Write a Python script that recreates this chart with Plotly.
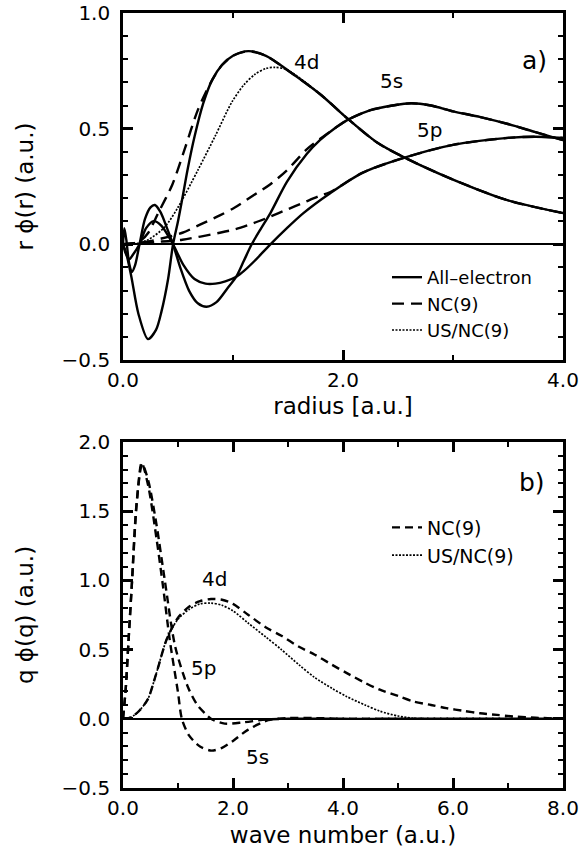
import plotly.graph_objects as go

# ---------------- panel a) : r*phi(r) ----------------
r_5s_ae = [0.0, 0.012, 0.03, 0.055, 0.08, 0.11, 0.15, 0.2, 0.25, 0.29, 0.34, 0.4, 0.455, 0.52, 0.6, 0.68, 0.76,
           0.85, 0.95, 1.03, 1.1, 1.17, 1.25, 1.34, 1.49, 1.67, 1.79, 1.92, 2.05, 2.25, 2.45, 2.62, 2.8, 3.0,
           3.25, 3.5, 3.75, 4.0]
y_5s_ae = [0.0, 0.07, 0.02, -0.08, -0.12, -0.09, 0.0, 0.11, 0.16, 0.17, 0.14, 0.07, 0.0, -0.1, -0.2, -0.255,
           -0.27, -0.25, -0.19, -0.14, -0.07, 0.0, 0.065, 0.135, 0.27, 0.39, 0.45, 0.50, 0.54, 0.58, 0.60, 0.61,
           0.60, 0.575, 0.55, 0.52, 0.485, 0.45]

r_5p_ae = [0.0, 0.025, 0.055, 0.09, 0.15, 0.21, 0.28, 0.35, 0.455, 0.55, 0.65, 0.75, 0.84, 0.93, 1.03, 1.1, 1.2,
           1.34, 1.49, 1.64, 1.88, 2.18, 2.56, 3.0, 3.5, 3.75, 4.0]
y_5p_ae = [0.0, -0.04, -0.065, -0.045, 0.0, 0.07, 0.10, 0.08, 0.0, -0.09, -0.15, -0.17, -0.17, -0.16, -0.14,
           -0.115, -0.07, 0.0, 0.07, 0.135, 0.22, 0.31, 0.375, 0.43, 0.46, 0.465, 0.46]

r_4d_ae = [0.0, 0.03, 0.076, 0.14, 0.227, 0.3, 0.35, 0.41, 0.455, 0.5, 0.54, 0.59, 0.65, 0.73, 0.81, 0.9, 1.0,
           1.14, 1.3, 1.49, 1.79, 2.05, 2.31, 2.56, 3.0, 3.5, 4.0]
y_4d_ae = [0.0, -0.04, -0.14, -0.30, -0.41, -0.37, -0.29, -0.15, 0.0, 0.1, 0.2, 0.33, 0.465, 0.61, 0.71, 0.775,
           0.815, 0.835, 0.815, 0.755, 0.65, 0.54, 0.44, 0.375, 0.28, 0.19, 0.135]

r_4d_nc = [0.0, 0.1, 0.17, 0.23, 0.32, 0.45, 0.56, 0.68, 0.81, 0.9, 1.0, 1.14, 1.3, 1.49, 1.79, 2.05, 2.31, 2.56,
           3.0, 3.5, 4.0]
y_4d_nc = [0.0, 0.005, 0.02, 0.05, 0.135, 0.26, 0.41, 0.58, 0.71, 0.775, 0.815, 0.835, 0.815, 0.755, 0.65, 0.54,
           0.44, 0.375, 0.28, 0.19, 0.135]

r_5s_nc = [0.0, 0.2, 0.35, 0.54, 0.7, 0.88, 1.02, 1.18, 1.34, 1.49, 1.67, 1.79, 1.92, 2.05, 2.25, 2.45, 2.62, 2.8,
           3.0, 3.25, 3.5, 3.75, 4.0]
y_5s_nc = [0.0, 0.01, 0.025, 0.05, 0.085, 0.125, 0.16, 0.21, 0.26, 0.32, 0.41, 0.455, 0.50, 0.54, 0.58, 0.60,
           0.61, 0.60, 0.575, 0.55, 0.52, 0.485, 0.45]

r_5p_nc = [0.0, 0.3, 0.54, 0.88, 1.02, 1.18, 1.34, 1.49, 1.64, 1.79, 1.88, 2.18, 2.56, 3.0, 3.5, 3.75, 4.0]
y_5p_nc = [0.0, 0.01, 0.02, 0.05, 0.065, 0.09, 0.12, 0.15, 0.18, 0.21, 0.225, 0.31, 0.375, 0.43, 0.46, 0.465,
           0.46]

r_4d_us = [0.0, 0.12, 0.23, 0.38, 0.5, 0.68, 0.84, 0.99, 1.1, 1.2, 1.3, 1.38, 1.49, 1.79, 2.05, 2.31, 2.56, 3.0,
           3.5, 4.0]
y_4d_us = [0.0, 0.003, 0.02, 0.075, 0.16, 0.32, 0.47, 0.615, 0.69, 0.735, 0.76, 0.765, 0.755, 0.65, 0.54, 0.44,
           0.375, 0.28, 0.19, 0.135]

# ---------------- panel b) : q*phi(q) ----------------
q_5s_nc = [0.0, 0.05, 0.1, 0.16, 0.25, 0.34, 0.46, 0.61, 0.73, 0.85, 1.0, 1.07, 1.2, 1.4, 1.61, 1.8, 2.0, 2.27,
           2.64, 3.0, 3.5, 4.0, 5.0, 6.0, 7.0, 8.0]
w_5s_nc = [0.0, 0.22, 0.56, 0.96, 1.56, 1.85, 1.68, 1.3, 0.95, 0.57, 0.19, 0.0, -0.12, -0.2, -0.23, -0.21, -0.16,
           -0.08, -0.01, 0.005, 0.005, 0.0, 0.0, 0.0, 0.0, 0.0]

q_5p_nc = [0.0, 0.05, 0.1, 0.16, 0.25, 0.35, 0.46, 0.61, 0.76, 0.95, 1.18, 1.35, 1.49, 1.6, 1.85, 2.2, 2.6, 3.0,
           4.0, 5.0, 6.0, 7.0, 8.0]
w_5p_nc = [0.0, 0.22, 0.56, 0.97, 1.57, 1.84, 1.72, 1.4, 1.0, 0.52, 0.23, 0.1, 0.04, 0.0, -0.035, -0.025, -0.005,
           0.0, 0.0, 0.0, 0.0, 0.0, 0.0]

q_4d_nc = [0.0, 0.1, 0.2, 0.3, 0.45, 0.6, 0.8, 1.0, 1.2, 1.4, 1.6, 1.8, 2.0, 2.28, 2.6, 2.88, 3.2, 3.48, 3.8, 4.07,
           4.4, 4.67, 5.0, 5.28, 5.6, 5.88, 6.2, 6.49, 6.8, 7.1, 7.5, 8.0]
w_4d_nc = [0.0, 0.005, 0.025, 0.06, 0.14, 0.32, 0.58, 0.73, 0.81, 0.85, 0.865, 0.86, 0.83, 0.75, 0.66, 0.60, 0.52,
           0.465, 0.39, 0.33, 0.26, 0.21, 0.165, 0.125, 0.1, 0.077, 0.057, 0.04, 0.028, 0.017, 0.008, 0.0]

q_4d_us = [0.0, 0.1, 0.2, 0.3, 0.45, 0.6, 0.8, 1.0, 1.2, 1.4, 1.6, 1.8, 2.0, 2.28, 2.6, 2.88, 3.2, 3.48, 3.8, 4.07,
           4.4, 4.67, 5.0, 5.3, 5.6, 6.0, 7.0, 8.0]
w_4d_us = [0.0, 0.005, 0.025, 0.06, 0.14, 0.32, 0.58, 0.72, 0.79, 0.83, 0.836, 0.82, 0.78, 0.69, 0.59, 0.50, 0.39,
           0.30, 0.22, 0.16, 0.10, 0.055, 0.02, 0.003, 0.0, 0.0, 0.0, 0.0]

# tick steps (major / minor)
top_x_major, top_x_minor = 2.0, 1.0
top_y_major, top_y_minor = 0.5, 0.1
bot_x_major, bot_x_minor = 2.0, 1.0
bot_y_major, bot_y_minor = 0.5, 0.1

FONT = "DejaVu Sans"
BLACK = "black"
DASH_TOP = "12px,7px"
DASH_BOT = "8px,5px"
DOT = "2px,1.5px"

fig = go.Figure()


def add(x, y, dash, width, name, show, xa, ya, legend):
    fig.add_trace(go.Scatter(
        x=x, y=y, mode="lines", name=name, showlegend=show, legend=legend,
        line=dict(color=BLACK, width=width, dash=dash, shape="spline", smoothing=0.8),
        xaxis=xa, yaxis=ya, hoverinfo="skip"))


# panel a
add(r_5s_ae, y_5s_ae, "solid", 2.4, "All\u2013electron", True, "x", "y", "legend")
add(r_5p_ae, y_5p_ae, "solid", 2.4, "All\u2013electron", False, "x", "y", "legend")
add(r_4d_ae, y_4d_ae, "solid", 2.4, "All\u2013electron", False, "x", "y", "legend")
add(r_4d_nc, y_4d_nc, DASH_TOP, 2.4, "NC(9)", True, "x", "y", "legend")
add(r_5s_nc, y_5s_nc, DASH_TOP, 2.4, "NC(9)", False, "x", "y", "legend")
add(r_5p_nc, y_5p_nc, DASH_TOP, 2.4, "NC(9)", False, "x", "y", "legend")
add(r_4d_us, y_4d_us, DOT, 1.7, "US/NC(9)", True, "x", "y", "legend")

# panel b
add(q_5s_nc, w_5s_nc, DASH_BOT, 2.4, "NC(9)", True, "x2", "y2", "legend2")
add(q_5p_nc, w_5p_nc, DASH_BOT, 2.4, "NC(9)", False, "x2", "y2", "legend2")
add(q_4d_nc, w_4d_nc, DASH_BOT, 2.4, "NC(9)", False, "x2", "y2", "legend2")
add(q_4d_us, w_4d_us, DOT, 1.7, "US/NC(9)", True, "x2", "y2", "legend2")


def axis(dtick, minor_dtick, rng, **kw):
    d = dict(
        showline=True, linecolor=BLACK, linewidth=2.6, mirror="allticks",
        tickmode="linear", tick0=0, dtick=dtick, tickformat=".1f", range=rng,
        ticks="inside", ticklen=10, tickwidth=2.5, tickcolor=BLACK,
        showgrid=False, tickfont=dict(family=FONT, size=20, color=BLACK),
        title_font=dict(family=FONT, size=23, color=BLACK),
        minor=dict(tickmode="linear", tick0=0, dtick=minor_dtick, ticks="inside",
                   ticklen=5, tickwidth=1.6, tickcolor=BLACK, showgrid=False),
    )
    d.update(kw)
    return d


fig.update_layout(
    template="none",
    width=579, height=856,
    margin=dict(l=123, r=16, t=13, b=68, autoexpand=False),
    paper_bgcolor="white", plot_bgcolor="white",
    font=dict(family=FONT, color=BLACK),
    xaxis=axis(top_x_major, top_x_minor, [0, 4], domain=[0, 1], anchor="y", zeroline=False,
               title=dict(text="radius [a.u.]", standoff=8)),
    yaxis=axis(top_y_major, top_y_minor, [-0.5, 1.0], domain=[0.5523, 1], anchor="x",
               ticklabelstandoff=6, zeroline=True, zerolinecolor=BLACK, zerolinewidth=2,
               title=dict(text="r \u03d5(r) (a.u.)", standoff=22)),
    xaxis2=axis(bot_x_major, bot_x_minor, [0, 8], domain=[0, 1], anchor="y2", zeroline=False,
                title=dict(text="wave number (a.u.)", standoff=9)),
    yaxis2=axis(bot_y_major, bot_y_minor, [-0.5, 2.0], domain=[0, 0.4465], anchor="x2",
                ticklabelstandoff=6, zeroline=True, zerolinecolor=BLACK, zerolinewidth=2,
                title=dict(text="q \u03d5(q) (a.u.)", standoff=22)),
    legend=dict(x=0.60, y=0.6826, xanchor="left", yanchor="top", bgcolor="rgba(0,0,0,0)",
                borderwidth=0, font=dict(family=FONT, size=18, color=BLACK), traceorder="normal"),
    legend2=dict(x=0.60, y=0.3606, xanchor="left", yanchor="top", bgcolor="rgba(0,0,0,0)",
                 borderwidth=0, font=dict(family=FONT, size=19, color=BLACK), traceorder="normal"),
    showlegend=True,
)

labels = [
    ("a)", 3.745, 0.793, "x", "y", 25),
    ("4d", 1.67, 0.79, "x", "y", 20),
    ("5s", 2.445, 0.707, "x", "y", 20),
    ("5p", 2.79, 0.495, "x", "y", 20),
    ("b)", 7.44, 1.705, "x2", "y2", 25),
    ("4d", 1.655, 1.01, "x2", "y2", 20),
    ("5p", 1.47, 0.37, "x2", "y2", 20),
    ("5s", 2.45, -0.275, "x2", "y2", 20),
]
for txt, ax_, ay_, xr, yr, fs in labels:
    fig.add_annotation(text=txt, x=ax_, y=ay_, xref=xr, yref=yr, showarrow=False,
                       font=dict(family=FONT, size=fs, color=BLACK))

# remove the default page margin so the 579x856 figure fills the window exactly
fig.write_html("out.html", config={"displayModeBar": False},
               post_script="document.body.style.margin='0px';")
